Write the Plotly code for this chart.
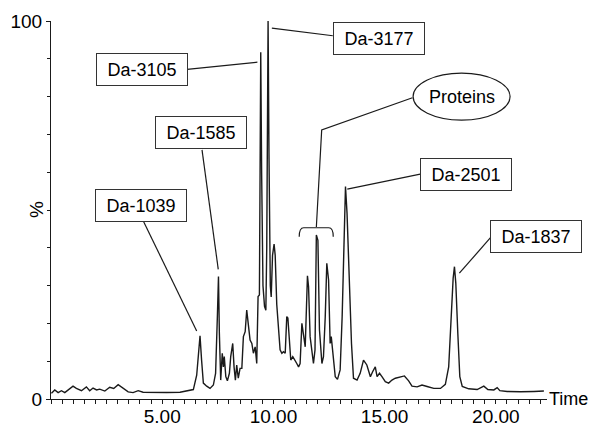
import plotly.graph_objects as go

# --- Chromatogram data (time in min, intensity in %) ---
time = [0.02, 0.17, 0.32, 0.47, 0.62, 0.77, 0.99, 1.14, 1.37, 1.59, 1.74, 1.89, 2.05, 2.19,
        2.42, 2.64, 2.82, 3.02, 3.24, 3.47, 3.69, 3.92, 4.14, 4.59, 5.2, 5.8, 6.17, 6.4,
        6.55, 6.62, 6.70, 6.77, 6.85, 7.0, 7.15, 7.3, 7.4, 7.48, 7.53, 7.57, 7.63, 7.7,
        7.75, 7.79, 7.86, 7.93, 8.02, 8.08, 8.17, 8.23, 8.29, 8.35, 8.42, 8.5, 8.58, 8.65,
        8.73, 8.8, 8.86, 8.95, 9.03, 9.1, 9.18, 9.25, 9.31, 9.37, 9.40, 9.43, 9.47, 9.53,
        9.60, 9.66, 9.70, 9.76, 9.80, 9.86, 9.90, 9.96, 10.03, 10.08, 10.15, 10.23, 10.3,
        10.38, 10.45, 10.53, 10.6, 10.65, 10.71, 10.78, 10.87, 10.98, 11.05, 11.13, 11.2,
        11.28, 11.35, 11.43, 11.53, 11.58, 11.65, 11.73, 11.8, 11.87, 11.93, 12.0, 12.07,
        12.18, 12.25, 12.33, 12.4, 12.48, 12.55, 12.6, 12.7, 12.78, 12.88, 13.0, 13.09,
        13.17, 13.24, 13.31, 13.38, 13.44, 13.51, 13.6, 13.76, 13.9, 14.05, 14.2, 14.36,
        14.46, 14.58, 14.66, 14.77, 14.88, 15.03, 15.18, 15.33, 15.48, 15.71, 15.89, 16.08,
        16.23, 16.46, 16.68, 16.91, 17.21, 17.51, 17.73, 17.88, 17.99, 18.08, 18.14, 18.2,
        18.29, 18.38, 18.49, 18.78, 19.16, 19.46, 19.64, 19.91, 20.06, 20.18, 20.51, 21.11,
        21.71, 22.16]
intensity = [1.5, 2.4, 1.7, 2.2, 1.7, 2.4, 3.4, 2.8, 2.2, 3.2, 2.2, 2.9, 2.4, 2.6,
             2.1, 3.1, 2.8, 3.8, 2.8, 1.9, 1.7, 2.2, 1.8, 1.7, 1.7, 1.8, 2.2, 2.5,
             6.3, 11.2, 16.7, 10.3, 4.2, 3.4, 2.8, 3.7, 6.8, 21.8, 32.4, 17.4, 5.0, 12.1,
             8.5, 11.2, 5.9, 4.8, 6.8, 11.2, 14.7, 8.5, 5.0, 9.0, 5.5, 8.1, 8.1, 16.5,
             17.8, 23.5, 20.9, 15.6, 14.7, 12.1, 13.8, 9.4, 27.1, 27.5, 60.0, 91.7, 60.0, 30.0,
             24.5, 23.5, 40.0, 100.0, 65.0, 30.0, 27.0, 38.0, 41.0, 38.0, 25.0, 17.0, 13.0,
             12.1, 12.5, 12.1, 21.8, 21.4, 14.7, 10.3, 11.2, 10.3, 9.4, 8.5, 9.4,
             20.0, 17.4, 13.8, 32.6, 29.7, 16.5, 12.5, 9.4, 13.0, 43.4, 42.0, 18.3,
             9.4, 11.2, 21.8, 35.9, 31.5, 14.7, 16.5, 10.3, 5.9, 5.2, 7.7, 21.8,
             44.7, 56.2, 49.1, 35.9, 28.0, 14.7, 5.5, 5.0, 6.8, 10.3, 9.0, 5.9,
             7.2, 8.5, 5.9, 6.8, 5.9, 4.6, 4.2, 5.0, 5.5, 5.8, 6.1, 4.8,
             3.4, 3.2, 3.7, 3.3, 2.8, 2.8, 3.9, 8.5, 21.8, 31.9, 35.0, 30.6,
             17.4, 5.9, 3.3, 2.7, 2.5, 3.4, 2.5, 2.4, 3.0, 2.2, 2.0, 1.9,
             2.0, 2.1]

x_tick_vals = [5, 10, 15, 20]
x_tick_text = ["5.00", "10.00", "15.00", "20.00"]
y_tick_vals = [0, 100]
y_tick_text = ["0", "100"]

# Callout labels: text, box centre (time, %), leader line from box to peak
callout_labels = ["Da-1039", "Da-1585", "Da-3105", "Da-3177", "Da-2501", "Da-1837"]
callout_box_x = [4.05, 6.74, 4.07, 14.75, 18.66, 21.81]
callout_box_y = [51.1, 70.4, 87.3, 95.5, 59.5, 43.1]
leader_x0 = [4.15, 6.79, 6.12, 12.67, 16.6, 19.78]
leader_y0 = [47.1, 65.9, 87.2, 96.1, 59.5, 42.8]
leader_x1 = [6.55, 7.52, 9.28, 9.93, 13.32, 18.36]
leader_y1 = [18.0, 34.3, 89.1, 98.1, 55.5, 33.3]

FONT = "Liberation Sans, Arial, sans-serif"
INK = "#1a1a1a"

fig = go.Figure()
fig.add_trace(go.Scatter(x=time, y=intensity, mode="lines",
                         line=dict(color=INK, width=1.4), hoverinfo="skip"))

shapes = []
annotations = []
for lab, bx, by, x0, y0, x1, y1 in zip(callout_labels, callout_box_x, callout_box_y,
                                        leader_x0, leader_y0, leader_x1, leader_y1):
    shapes.append(dict(type="line", x0=x0, y0=y0, x1=x1, y1=y1, xref="x", yref="y",
                       line=dict(color=INK, width=1.2)))
    annotations.append(dict(x=bx, y=by, xref="x", yref="y", text=lab, showarrow=False,
                            font=dict(family=FONT, size=18, color="black"),
                            bordercolor="#333333", borderwidth=1, borderpad=1,
                            width=88, height=29, bgcolor="white"))

# Proteins ellipse, leader and brace
shapes.append(dict(type="circle", x0=16.28, x1=20.64, y0=73.8, y1=86.2, xref="x", yref="y",
                   line=dict(color=INK, width=1.2), fillcolor="white"))
shapes.append(dict(type="path", xref="x", yref="y",
                   path="M 16.25,79.7 L 12.17,71.2 L 11.93,45.5",
                   line=dict(color=INK, width=1.2)))
shapes.append(dict(type="path", xref="x", yref="y",
                   path="M 11.16,42.9 Q 11.16,45.3 11.36,45.3 L 12.49,45.3 Q 12.69,45.3 12.69,42.9",
                   line=dict(color=INK, width=1.2)))
annotations.append(dict(x=18.46, y=80.0, xref="x", yref="y", text="Proteins", showarrow=False,
                        font=dict(family=FONT, size=18, color="black")))

# Axis labels
annotations.append(dict(x=1, y=0, xref="paper", yref="paper", text="Time", showarrow=False,
                        xanchor="left", yanchor="middle", xshift=0,
                        font=dict(family=FONT, size=18, color="black")))
annotations.append(dict(x=0, y=50, xref="paper", yref="y", text="%", showarrow=False,
                        xanchor="center", yanchor="middle", xshift=-15, textangle=-90,
                        font=dict(family=FONT, size=19, color="black")))

fig.update_layout(
    width=593, height=427,
    margin=dict(l=51, r=46, t=21, b=28),
    paper_bgcolor="white", plot_bgcolor="white",
    showlegend=False,
    shapes=shapes, annotations=annotations,
    font=dict(family=FONT, size=19, color="black"),
    xaxis=dict(range=[0, 22.3], showline=True, linecolor=INK, linewidth=1,
               showgrid=False, zeroline=False, automargin=False,
               tickvals=x_tick_vals, ticktext=x_tick_text,
               ticks="outside", ticklen=4, tickcolor=INK, tickwidth=1,
               ticklabelstandoff=-4,
               minor=dict(dtick=0.5, tick0=0, ticks="outside", ticklen=4,
                          tickcolor=INK, showgrid=False),
               tickfont=dict(family=FONT, size=19, color="black")),
    yaxis=dict(range=[0, 100], showline=True, linecolor=INK, linewidth=1,
               showgrid=False, zeroline=False, automargin=False,
               tickvals=y_tick_vals, ticktext=y_tick_text,
               ticks="outside", ticklen=4, tickcolor=INK, tickwidth=1,
               minor=dict(dtick=10, tick0=0, ticks="outside", ticklen=3,
                          tickcolor=INK, showgrid=False),
               tickfont=dict(family=FONT, size=19, color="black")),
)

fig.write_html("out.html")
